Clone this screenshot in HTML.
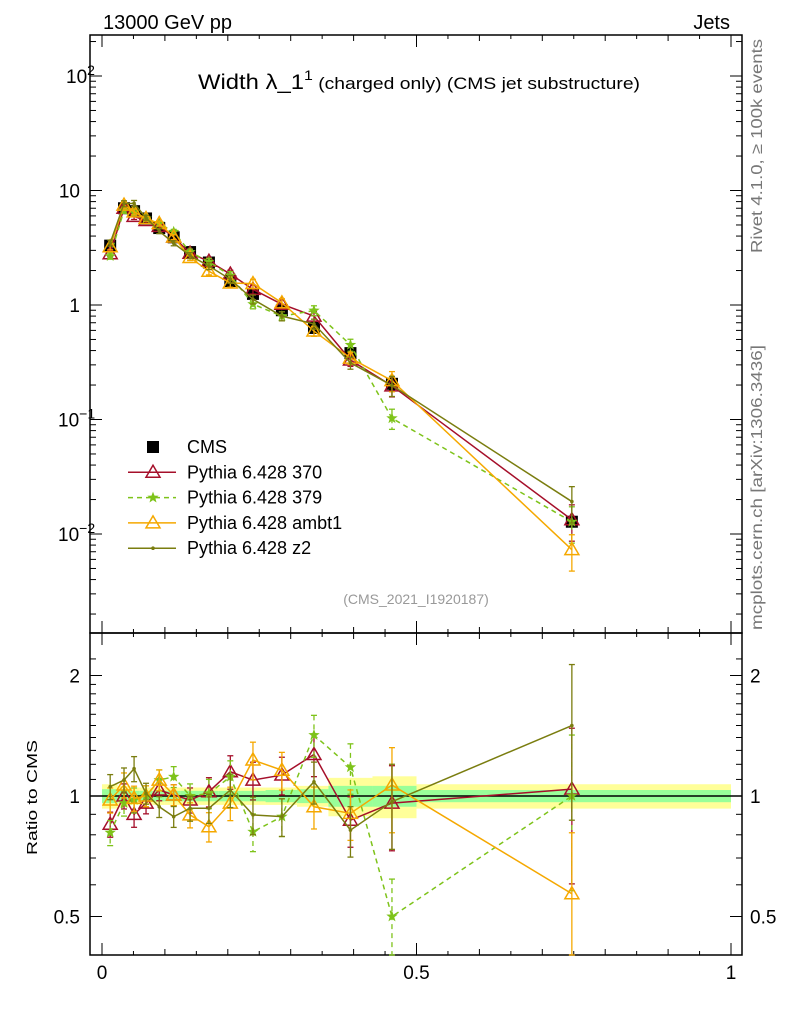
<!DOCTYPE html>
<html><head><meta charset="utf-8"><style>
body{margin:0;background:#fff;font-family:"Liberation Sans",sans-serif}
svg text{font-family:"Liberation Sans","DejaVu Sans",sans-serif}
</style></head><body>
<svg id="c" width="786" height="1024" viewBox="0 0 786 1024" xmlns="http://www.w3.org/2000/svg">
<text x="103" y="29" font-size="20">13000 GeV pp</text>
<text x="730" y="29" font-size="20" text-anchor="end">Jets</text>
<text x="198" y="89" font-size="21" textLength="442" lengthAdjust="spacingAndGlyphs">Width λ_1<tspan font-size="14" dy="-9">1</tspan><tspan font-size="17" dy="9"> (charged only) (CMS jet substructure)</tspan></text>
<text x="416" y="604" font-size="14" fill="#999" text-anchor="middle">(CMS_2021_I1920187)</text>
<text transform="translate(762,253) rotate(-90)" font-size="16" fill="#777" textLength="214" lengthAdjust="spacingAndGlyphs">Rivet 4.1.0, ≥ 100k events</text>
<text transform="translate(762,630) rotate(-90)" font-size="16" fill="#777" textLength="285" lengthAdjust="spacingAndGlyphs">mcplots.cern.ch [arXiv:1306.3436]</text>
<text transform="translate(37,855) rotate(-90)" font-size="15" textLength="115" lengthAdjust="spacingAndGlyphs">Ratio to CMS</text>
<g id="g"></g>
</svg>
<script>
const xs=[0.013,0.035,0.051,0.070,0.091,0.114,0.140,0.170,0.204,0.240,0.286,0.337,0.395,0.461,0.747];
const edges=[0,0.025,0.045,0.06,0.08,0.1,0.125,0.155,0.185,0.225,0.26,0.31,0.36,0.43,0.5,1.0];
const cms=[3.3,7.0,6.6,5.7,4.7,3.9,2.9,2.35,1.62,1.25,0.9,0.63,0.38,0.205,0.0128];
const statErr=[0.04,0.03,0.03,0.03,0.03,0.03,0.03,0.03,0.03,0.03,0.035,0.04,0.06,0.06,0.035];
const totErr=[0.07,0.06,0.05,0.05,0.05,0.05,0.05,0.05,0.05,0.05,0.05,0.06,0.11,0.12,0.07];
const r370=[0.85,1.0,0.90,0.96,1.035,1.006,0.977,1.025,1.15,1.096,1.128,1.27,0.87,0.96,1.04];
const r379=[0.81,0.96,0.977,1.0,1.096,1.117,1.0,1.015,1.117,0.814,0.888,1.42,1.18,0.5,1.0];
const rambt1=[0.977,1.065,0.987,1.0,1.096,1.006,0.897,0.838,0.96,1.23,1.16,0.94,0.905,1.065,0.57];
const rz2=[1.055,1.096,1.17,1.015,0.94,0.888,0.932,0.932,1.035,0.897,0.888,1.085,0.822,0.968,1.5];
const mcErr=[0.06,0.06,0.06,0.05,0.05,0.05,0.06,0.07,0.08,0.09,0.09,0.1,0.12,0.2,0.35];
const ytickBase=["10","10","1","10","10"];
const ytickExp=["−2","−1","","","2"];
const NS="http://www.w3.org/2000/svg",g=document.getElementById('g');
const L=90,R=742,T=35,M=633,B=955;
const X=x=>102+629*x;
const Y=v=>305-114.5*Math.log10(v);
const YR=r=>796-120.5*Math.log2(r);
function el(t,a,p){const e=document.createElementNS(NS,t);for(const k in a)e.setAttribute(k,a[k]);(p||g).appendChild(e);return e;}
const bands=el('g',{});
for(let i=0;i<xs.length;i++){
 const x0=X(edges[i]),x1=X(edges[i+1]);
 const y=el('rect',{x:x0,y:YR(1+totErr[i]),width:x1-x0,height:YR(1-totErr[i])-YR(1+totErr[i]),fill:'#ffff99'},bands);
 
 const gg=el('rect',{x:x0,y:YR(1+statErr[i]),width:x1-x0,height:YR(1-statErr[i])-YR(1+statErr[i]),fill:'#99ff99'},bands);
 
}
const one=el('line',{x1:L,x2:R,y1:YR(1),y2:YR(1),stroke:'#000','stroke-width':1.5});

const f1=el('rect',{x:L,y:T,width:R-L,height:M-T,fill:'none',stroke:'#000','stroke-width':1.5});

const f2=el('rect',{x:L,y:M,width:R-L,height:B-M,fill:'none',stroke:'#000','stroke-width':1.5});

for(let d=-3;d<=2;d++){for(let m=1;m<10;m++){const v=m*Math.pow(10,d),y=Y(v);if(y<T||y>M)continue;const len=m==1?12:6;
 el('line',{x1:L,x2:L+len,y1:y,y2:y,stroke:'#000'});el('line',{x1:R,x2:R-len,y1:y,y2:y,stroke:'#000'});}}
for(let d=-2;d<=2;d++){const i=d+2;const hasExp=ytickExp[i]!=="";
 const t=el('text',{x:hasExp?(ytickExp[i].length>1?58:66):80,y:Y(Math.pow(10,d))+7,'font-size':19,'text-anchor':hasExp?'start':'end'});
 t.textContent=ytickBase[i];
 if(hasExp){const s=el('tspan',{dy:-8,'font-size':14},t);s.textContent=ytickExp[i];}
 }
const rt=[0.4,0.5,0.6,0.7,0.8,0.9,1,1.1,1.2,1.3,1.4,1.5,1.6,1.7,1.8,1.9,2,2.2];
rt.forEach(r=>{const y=YR(r);if(y<M||y>B)return;const big=[0.5,1,2].includes(r);const len=big?12:6;
 el('line',{x1:L,x2:L+len,y1:y,y2:y,stroke:'#000'});el('line',{x1:R,x2:R-len,y1:y,y2:y,stroke:'#000'});});
[[0.5,"0.5"],[1,"1"],[2,"2"]].forEach(([r,s])=>{const t=el('text',{x:80,y:YR(r)+7,'font-size':19,'text-anchor':'end'});t.textContent=s;
 
 const t2=el('text',{x:750,y:YR(r)+7,'font-size':19});t2.textContent=s;});
for(let k=0;k<=20;k++){const x=X(k*0.05);const len=k%10==0?12:(k%2==0?6:4);
 [T,M].forEach(y0=>el('line',{x1:x,x2:x,y1:y0,y2:y0+len,stroke:'#000'}));
 [M,B].forEach(y0=>el('line',{x1:x,x2:x,y1:y0,y2:y0-len,stroke:'#000'}));}
[[0,"0"],[0.5,"0.5"],[1,"1"]].forEach(([v,s])=>{const t=el('text',{x:X(v),y:979,'font-size':19,'text-anchor':'middle'});t.textContent=s;
 });
function marker(p,type,x,y,c){
 if(type=='sq')el('rect',{x:x-6,y:y-6,width:12,height:12,fill:'#000'},p);
 else if(type=='tri')el('path',{d:`M${x},${y-7}L${x+7},${y+5}L${x-7},${y+5}Z`,fill:'none',stroke:c,'stroke-width':1.5},p);
 else if(type=='star'){let d='';for(let i=0;i<10;i++){const a=-Math.PI/2+i*Math.PI/5,rr=i%2?2.5:6;d+=(i?'L':'M')+(x+rr*Math.cos(a)).toFixed(1)+','+(y+rr*Math.sin(a)).toFixed(1);}el('path',{d:d+'Z',fill:c},p);}
 else el('circle',{cx:x,cy:y,r:1.8,fill:c},p);
}
const series=[
 {name:'pythia-370',r:r370,c:'#a50f2a',m:'tri',dash:''},
 {name:'pythia-379',r:r379,c:'#7ec31a',m:'star',dash:'5,4'},
 {name:'pythia-ambt1',r:rambt1,c:'#f5a800',m:'tri',dash:''},
 {name:'pythia-z2',r:rz2,c:'#7a7d0f',m:'dot',dash:''}];
function errbar(p,x,y1,y2,c,dash){el('line',{x1:x,x2:x,y1:y1,y2:y2,stroke:c,'stroke-width':1.3,'stroke-dasharray':dash},p);
 el('line',{x1:x-3,x2:x+3,y1:y1,y2:y1,stroke:c,'stroke-width':1.3},p);el('line',{x1:x-3,x2:x+3,y1:y2,y2:y2,stroke:c,'stroke-width':1.3},p);}
const cg=el('g',{});
xs.forEach((x,i)=>{errbar(cg,X(x),Y(cms[i]*(1+totErr[i])),Y(cms[i]*(1-totErr[i])),'#000','');marker(cg,'sq',X(x),Y(cms[i]));});
series.forEach(s=>{
 const sg=el('g',{});
 const rg=el('g',{});
 const pts=xs.map((x,i)=>X(x)+','+Y(cms[i]*s.r[i])).join(' ');
 const rpts=xs.map((x,i)=>X(x)+','+YR(s.r[i])).join(' ');
 el('polyline',{points:pts,fill:'none',stroke:s.c,'stroke-width':1.5,'stroke-dasharray':s.dash},sg);
 el('polyline',{points:rpts,fill:'none',stroke:s.c,'stroke-width':1.5,'stroke-dasharray':s.dash},rg);
 xs.forEach((x,i)=>{const v=cms[i]*s.r[i],e=mcErr[i];
  errbar(sg,X(x),Y(v*(1+e)),Y(v*Math.max(1-e,0.3)),s.c,s.dash);marker(sg,s.m,X(x),Y(v),s.c);
  const ylo=Math.min(YR(Math.max(s.r[i]-e*s.r[i]*1.2,0.3)),B);
  errbar(rg,X(x),YR(s.r[i]*(1+e*1.2)),ylo,s.c,s.dash);marker(rg,s.m,X(x),YR(s.r[i]),s.c);});
});
const lg=el('g',{});
const labels=['CMS','Pythia 6.428 370','Pythia 6.428 379','Pythia 6.428 ambt1','Pythia 6.428 z2'];
labels.forEach((lab,i)=>{const y=447+25.3*i;const e=el('g',{},lg);
 if(i==0)marker(e,'sq',153,y);else{const s=series[i-1];el('line',{x1:128,x2:176,y1:y,y2:y,stroke:s.c,'stroke-width':1.5,'stroke-dasharray':s.dash},e);marker(e,s.m,153,y,s.c);}
 const t=el('text',{x:187,y:y+6,'font-size':18},e);t.textContent=lab;});
</script>
</body></html>
